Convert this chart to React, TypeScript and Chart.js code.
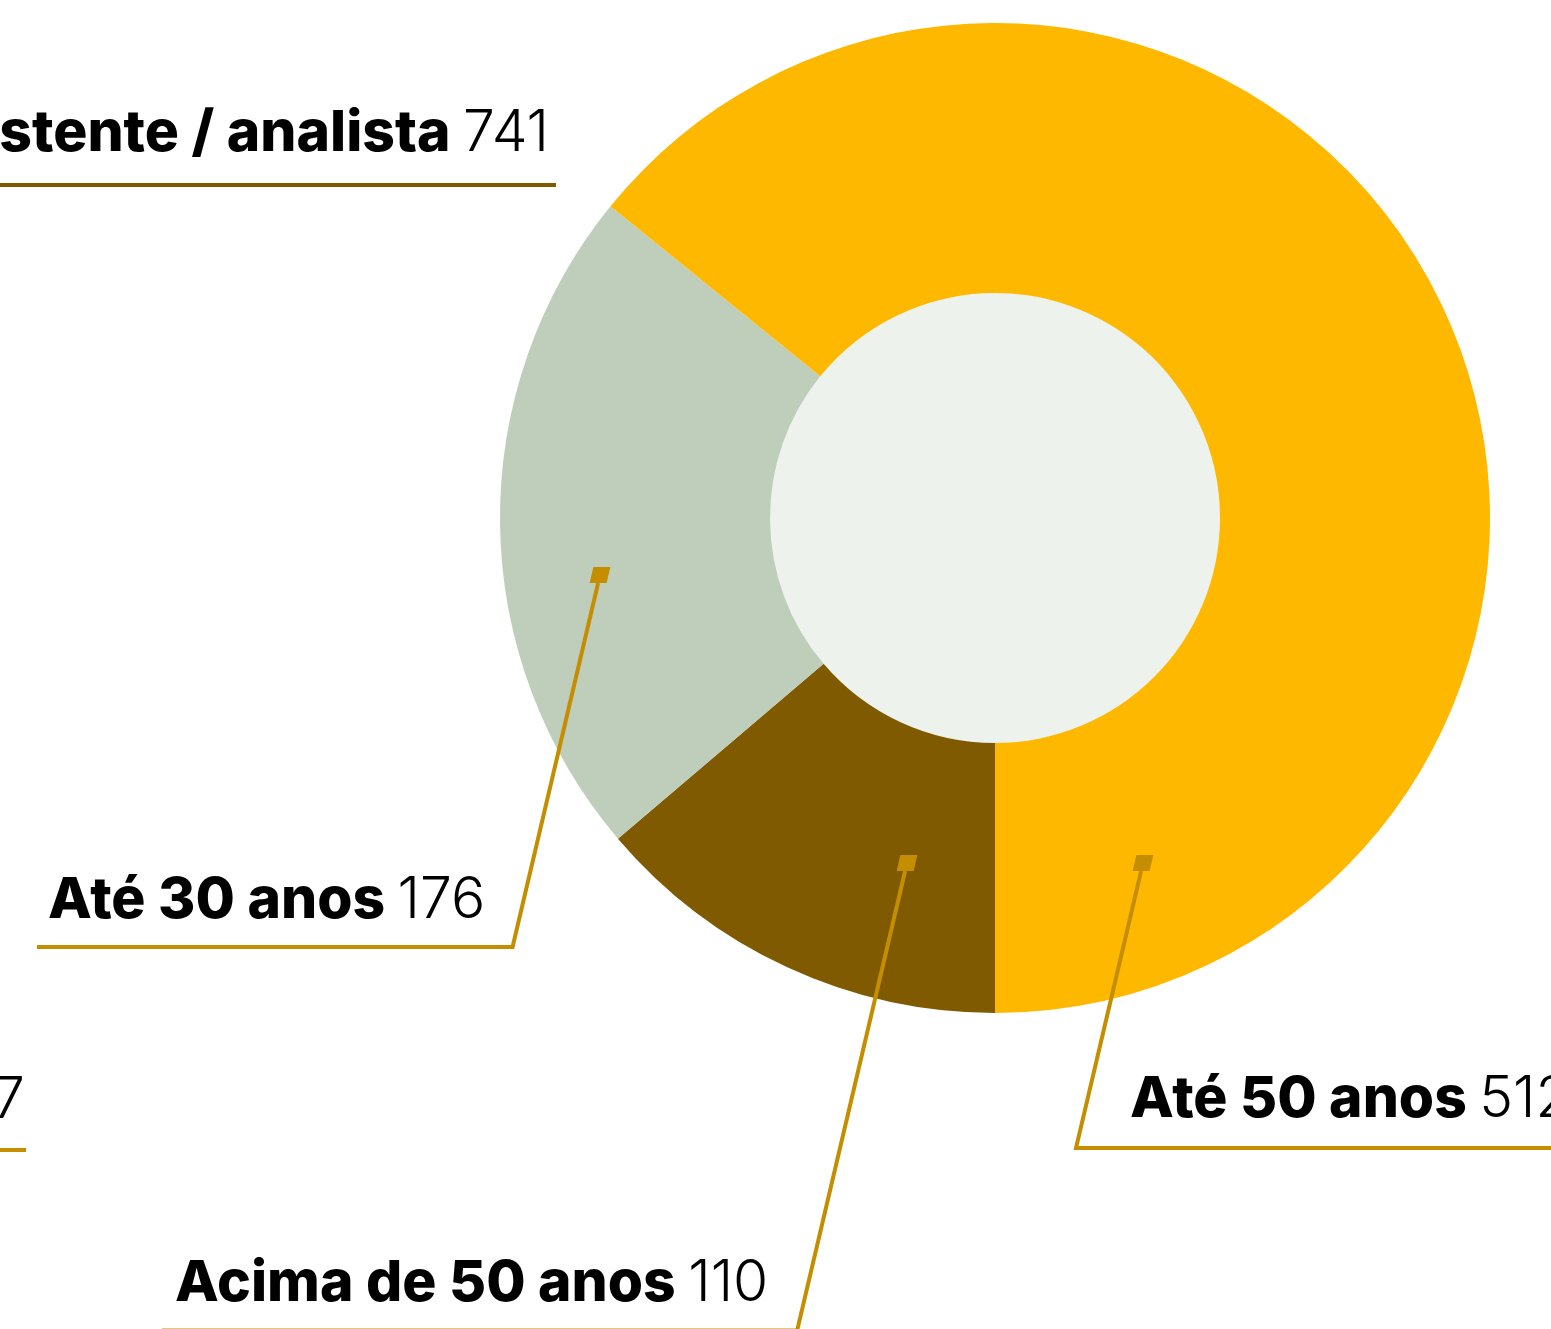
import React, { useEffect, useRef } from "react";
import { Chart, registerables } from "chart.js";

Chart.register(...registerables);

const categories = ["Acima de 50 anos", "Até 30 anos", "Até 50 anos"];
const values = [110, 176, 512];
const sliceColors = ["#7F5A00", "#BFCEBA", "#FFB800"];

// Labels of neighbouring charts, cropped by the frame
const outsideLabels = ["Assistente / analista", ""];
const outsideValues = ["741", "7"];

const LEADER = "#C58D00";
const INNER = "#EDF2EC";
const BOLD_FONT = "800 57px Inter";
const LIGHT_FONT = "300 57px Inter";

// annotation layout: marker offset from centre (fraction of outer radius), elbow y, text placement
const annot = [
  { mx: -88 / 495, my: 345 / 495, elbowY: 1330.5, lineTo: 162, textX: 175, baseY: 1301 },
  { mx: -395 / 495, my: 57 / 495, elbowY: 947, lineTo: 37, textX: 48, baseY: 918 },
  { mx: 148 / 495, my: 345 / 495, elbowY: 1148, lineTo: 1551, textX: 1130, baseY: 1117 },
];
const SLANT = -0.235;

function drawLabel(ctx: CanvasRenderingContext2D, bold: string, num: string, x: number, y: number, align: "left" | "right") {
  ctx.textBaseline = "alphabetic";
  ctx.textAlign = "left";
  ctx.font = BOLD_FONT;
  const bw = bold ? ctx.measureText(bold + " ").width : 0;
  ctx.font = LIGHT_FONT;
  const nw = ctx.measureText(num).width;
  let sx = align === "left" ? x : x - bw - nw;
  ctx.fillStyle = "#000";
  if (bold) {
    ctx.font = BOLD_FONT;
    ctx.fillText(bold + " ", sx, y);
  }
  ctx.font = LIGHT_FONT;
  ctx.fillText(num, sx + bw, y);
}

const innerPlugin = {
  id: "innerFill",
  beforeDatasetsDraw(chart: any) {
    const meta = chart.getDatasetMeta(0);
    const arc = meta.data[0];
    if (!arc) return;
    const { x, y, innerRadius } = arc.getProps(["x", "y", "innerRadius"], true);
    const ctx = chart.ctx;
    ctx.save();
    ctx.fillStyle = INNER;
    ctx.beginPath();
    ctx.arc(x, y, innerRadius + 1, 0, Math.PI * 2);
    ctx.fill();
    ctx.restore();
  },
};

const leaderPlugin = {
  id: "leaders",
  afterDraw(chart: any) {
    const meta = chart.getDatasetMeta(0);
    const arc = meta.data[0];
    if (!arc) return;
    const { x: cx, y: cy, outerRadius } = arc.getProps(["x", "y", "outerRadius"], true);
    const ctx: CanvasRenderingContext2D = chart.ctx;
    ctx.save();
    annot.forEach((a, i) => {
      const mx = cx + a.mx * outerRadius;
      const my = cy + a.my * outerRadius;
      // marker (slanted square)
      const h = 16;
      const w = 17;
      const top = my - h / 2;
      const bot = my + h / 2;
      ctx.fillStyle = LEADER;
      ctx.beginPath();
      ctx.moveTo(mx - w / 2 - SLANT * h / 2, top);
      ctx.lineTo(mx + w / 2 - SLANT * h / 2, top);
      ctx.lineTo(mx + w / 2 + SLANT * h / 2, bot);
      ctx.lineTo(mx - w / 2 + SLANT * h / 2, bot);
      ctx.closePath();
      ctx.fill();
      // leader
      const ex = mx + SLANT * h / 2 + SLANT * (a.elbowY - bot);
      ctx.strokeStyle = LEADER;
      ctx.lineWidth = 4;
      ctx.lineJoin = "miter";
      ctx.beginPath();
      ctx.moveTo(mx + SLANT * h / 2, bot);
      ctx.lineTo(ex, a.elbowY);
      ctx.lineTo(a.lineTo, a.elbowY);
      ctx.stroke();
      drawLabel(ctx, categories[i], String(values[i]), a.textX, a.baseY, "left");
    });
    // cropped labels from neighbouring charts
    drawLabel(ctx, outsideLabels[0], outsideValues[0], 549, 151, "right");
    ctx.strokeStyle = "#7F5A00";
    ctx.lineWidth = 4;
    ctx.beginPath();
    ctx.moveTo(0, 185);
    ctx.lineTo(556, 185);
    ctx.stroke();
    drawLabel(ctx, outsideLabels[1], outsideValues[1], 25, 1118, "right");
    ctx.strokeStyle = LEADER;
    ctx.beginPath();
    ctx.moveTo(0, 1150);
    ctx.lineTo(26, 1150);
    ctx.stroke();
    ctx.restore();
  },
};

export default function App() {
  const ref = useRef<HTMLCanvasElement | null>(null);
  useEffect(() => {
    document.body.style.margin = "0";
    const canvas = ref.current;
    if (!canvas) return;
    const chart = new Chart(canvas, {
      type: "doughnut",
      data: {
        labels: categories,
        datasets: [
          {
            data: values,
            backgroundColor: sliceColors,
            borderWidth: 0,
          },
        ],
      },
      options: {
        animation: false,
        responsive: false,
        rotation: 180,
        cutout: 225,
        layout: { padding: { left: 500, right: 61, top: 23, bottom: 316 } },
        plugins: {
          legend: { display: false },
          tooltip: { enabled: false },
        },
      },
      plugins: [innerPlugin, leaderPlugin],
    });
    return () => chart.destroy();
  }, []);
  return (
    <div style={{ width: 1551, height: 1329, background: "#fff" }}>
      <canvas ref={ref} width={1551} height={1329} style={{ display: "block" }} />
    </div>
  );
}
